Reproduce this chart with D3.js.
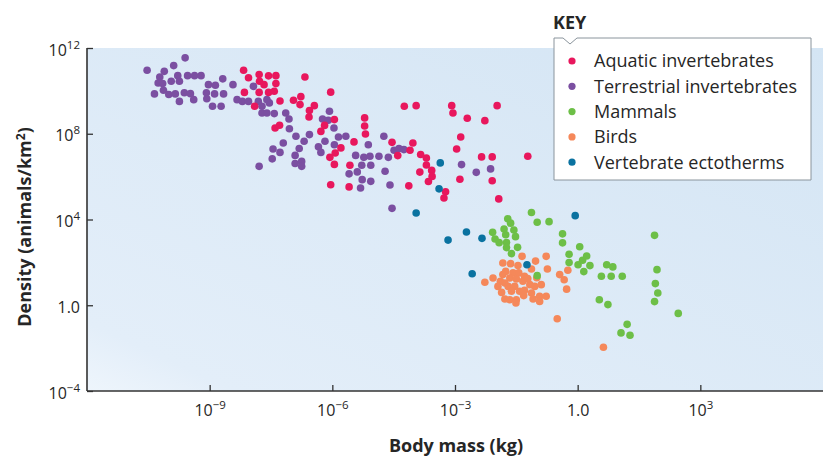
<!DOCTYPE html>
<html>
<head>
<meta charset="utf-8">
<script src="https://cdn.jsdelivr.net/npm/d3@7"></script>
<style>
  body { margin: 0; background: #fff; }
  #graf { width: 823px; height: 458px; }
  text { font-family: "Open Sans", "Noto Sans", sans-serif; fill: #262626; }
</style>
</head>
<body>
<div id="graf"></div>
<script>
// values as [log10 body mass (kg), log10 density (animals/km2)]
const aquatic = [
  [-8.17, 10.96], [-8.05, 10.61], [-7.79, 10.76], [-7.56, 10.70], [-7.38, 10.71],
  [-7.78, 10.45], [-7.67, 10.29], [-7.38, 10.34], [-8.15, 9.93], [-7.79, 9.93],
  [-7.56, 9.93], [-7.42, 9.98], [-7.90, 9.28], [-7.28, 9.53], [-6.67, 10.65],
  [-6.95, 9.56], [-6.77, 9.73], [-6.79, 9.36], [-6.44, 9.31], [-6.56, 9.08],
  [-6.57, 8.78], [-6.04, 9.94], [-7.40, 8.27], [-7.29, 8.40], [-6.28, 8.11],
  [-6.19, 8.39], [-5.95, 8.66], [-5.79, 7.34], [-5.93, 7.10], [-6.06, 6.90],
  [-5.95, 6.57], [-5.47, 7.62], [-5.21, 8.74], [-5.21, 8.36], [-5.19, 7.99],
  [-5.57, 6.53], [-6.04, 5.62], [-5.59, 5.52], [-4.24, 9.28], [-3.95, 9.31],
  [-4.54, 7.60], [-4.03, 7.57], [-4.10, 7.23], [-4.40, 6.98], [-3.84, 7.03],
  [-3.70, 6.87], [-3.70, 6.54], [-3.57, 6.29], [-3.56, 6.01], [-3.65, 5.77],
  [-3.86, 6.21], [-4.13, 5.57], [-3.23, 5.29], [-3.27, 5.00], [-3.08, 9.31],
  [-3.05, 8.97], [-2.70, 8.72], [-2.27, 8.61], [-1.97, 9.31], [-2.86, 7.85],
  [-2.96, 7.29], [-2.35, 6.92], [-2.09, 6.92], [-1.22, 6.95], [-2.88, 5.88],
  [-2.09, 5.81], [-1.93, 4.96]
]
const terrestrial = [
  [-10.53, 10.96], [-9.60, 11.54], [-9.88, 11.18], [-10.11, 10.91], [-10.22, 10.65],
  [-10.26, 10.37], [-10.15, 10.34], [-9.94, 10.45], [-9.78, 10.71], [-9.74, 10.45],
  [-9.54, 10.71], [-9.37, 10.71], [-9.21, 10.71], [-10.35, 9.86], [-10.13, 10.03],
  [-10.00, 9.83], [-9.84, 9.86], [-9.74, 9.51], [-9.62, 9.91], [-9.47, 9.87],
  [-9.39, 9.59], [-9.08, 9.91], [-9.07, 9.63], [-9.03, 10.29], [-8.86, 10.26],
  [-8.88, 9.86], [-8.68, 10.56], [-8.66, 9.86], [-8.93, 9.28], [-8.72, 9.28],
  [-8.43, 10.29], [-8.33, 9.59], [-8.20, 9.51], [-8.05, 9.51], [-7.93, 10.21],
  [-7.81, 9.51], [-7.72, 9.28], [-7.60, 9.59], [-7.54, 9.44], [-7.72, 8.97],
  [-7.60, 8.97], [-7.42, 8.94], [-7.14, 8.97], [-7.06, 8.69], [-7.05, 8.23],
  [-7.45, 7.29], [-7.28, 7.13], [-7.20, 7.57], [-7.47, 6.83], [-7.79, 6.48],
  [-6.89, 7.88], [-6.69, 7.65], [-6.56, 7.96], [-6.81, 7.31], [-6.91, 6.99],
  [-6.91, 6.61], [-6.75, 6.71], [-6.75, 6.48], [-6.34, 7.39], [-6.28, 7.13],
  [-6.24, 8.69], [-6.10, 8.63], [-6.07, 9.05], [-5.96, 8.27], [-6.18, 7.65],
  [-5.95, 7.49], [-5.85, 7.85], [-5.67, 7.88], [-5.43, 6.99], [-5.59, 6.13],
  [-5.39, 6.22], [-5.28, 6.53], [-5.23, 6.90], [-5.08, 6.95], [-5.06, 6.53],
  [-5.12, 7.49], [-5.27, 5.86], [-5.06, 5.78], [-5.31, 5.47], [-4.86, 6.95],
  [-4.74, 7.88], [-4.63, 6.90], [-4.71, 6.25], [-4.59, 5.61], [-4.54, 4.52],
  [-4.49, 7.23], [-4.37, 7.31], [-4.25, 7.26], [-2.84, 6.56], [-2.48, 6.20],
  [-2.13, 6.36]
]
const mammals = [
  [-1.13, 4.33], [-0.99, 3.87], [-0.70, 3.90], [-1.71, 4.03], [-1.64, 3.83],
  [-1.56, 3.51], [-1.80, 3.56], [-1.76, 3.29], [-1.52, 3.20], [-2.08, 3.40],
  [-2.02, 3.09], [-1.92, 2.92], [-1.74, 2.93], [-1.74, 2.69], [-1.47, 2.70],
  [-1.62, 2.41], [-0.37, 3.33], [-0.37, 2.91], [0.05, 2.73], [-0.21, 2.38],
  [-0.21, 1.99], [0.01, 1.89], [0.12, 2.10], [0.22, 2.30], [0.30, 1.85],
  [0.15, 1.57], [0.71, 1.89], [0.86, 1.79], [0.58, 1.35], [0.82, 1.35],
  [1.09, 1.35], [-0.99, 1.38], [0.53, 0.26], [0.74, 0.03], [1.88, 3.26],
  [1.94, 1.66], [1.90, 1.01], [1.96, 0.57], [1.88, 0.17], [2.46, -0.38],
  [1.21, -0.89], [1.06, -1.29], [1.28, -1.40]
]
const birds = [
  [-1.36, 2.28], [-0.77, 2.28], [-1.03, 2.06], [-0.74, 1.69], [-1.83, 1.97],
  [-1.64, 1.94], [-1.46, 1.85], [-1.13, 1.69], [-1.76, 1.58], [-1.83, 1.43],
  [-1.58, 1.51], [-1.44, 1.51], [-1.30, 1.35], [-1.66, 1.27], [-1.50, 1.23],
  [-1.34, 1.12], [-2.27, 1.07], [-2.07, 1.27], [-1.89, 1.12], [-1.95, 0.88],
  [-1.78, 1.04], [-1.70, 0.88], [-1.54, 0.88], [-1.17, 0.96], [-1.05, 0.88],
  [-0.89, 0.96], [-1.86, 0.60], [-1.62, 0.65], [-1.42, 0.65], [-1.30, 0.70],
  [-1.13, 0.57], [-1.78, 0.29], [-1.66, 0.26], [-1.50, 0.26], [-1.51, 0.11],
  [-1.09, 0.29], [-0.93, 0.42], [-0.77, 0.42], [-0.93, 0.18], [-0.44, 1.43],
  [-0.33, 1.19], [-0.24, 1.63], [-0.27, 0.75], [-0.50, -0.63], [0.63, -1.96],
  [-1.22, 1.24], [-1.00, 1.28], [-1.32, 0.45]
]
const ectotherms = [
  [-3.95, 4.30], [-3.36, 6.64], [-3.39, 5.43], [-3.17, 3.04], [-2.72, 3.42],
  [-2.34, 3.12], [-2.58, 1.47], [-1.24, 1.89], [-0.06, 4.18]
]

const categories = ['Aquatic invertebrates', 'Terrestrial invertebrates', 'Mammals', 'Birds', 'Vertebrate ectotherms']
const colores = ['#e8175d', '#7b4fa1', '#6dbf47', '#f5885a', '#0a72a0']
const series = [aquatic, terrestrial, mammals, birds, ectotherms]
// drawing order (back to front)
const drawOrder = [1, 0, 3, 2, 4]

const xTicks = [-9, -6, -3, 0, 3]
const yTicks = [12, 8, 4, 0, -4]

const ancho = 823
const alto = 458
const m = { left: 87, right: 823, top: 48, bottom: 391 }

const svg = d3.select('#graf').append('svg')
    .attr('width', ancho)
    .attr('height', alto)

const x = d3.scaleLog().domain([1e-12, 1e6]).range([m.left, m.right])
const y = d3.scaleLog().domain([1e-4, 1e12]).range([m.bottom, m.top])

// background
const defs = svg.append('defs')
const grad = defs.append('linearGradient')
    .attr('id', 'bg').attr('x1', 0).attr('y1', 1).attr('x2', 1).attr('y2', 0)
grad.append('stop').attr('offset', 0).attr('stop-color', '#eef5fc')
grad.append('stop').attr('offset', 0.1).attr('stop-color', '#e3eef9')
grad.append('stop').attr('offset', 1).attr('stop-color', '#d4e5f4')

svg.append('rect')
    .attr('x', m.left).attr('y', m.top)
    .attr('width', m.right - m.left).attr('height', m.bottom - m.top)
    .attr('fill', 'url(#bg)')

// points
drawOrder.forEach(i => {
  svg.append('g').selectAll('circle')
    .data(series[i])
    .enter()
    .append('circle')
    .attr('cx', d => x(10 ** d[0]))
    .attr('cy', d => y(10 ** d[1]))
    .attr('r', 3.8)
    .attr('fill', colores[i])
})

// axes
const supLabel = (sel, exps) => {
  sel.selectAll('.tick text').each(function(d, i) {
    const t = d3.select(this).text('')
    const e = exps[i]
    if (e === 0) {
      t.text('1.0')
    } else {
      t.append('tspan').text('10')
      t.append('tspan').attr('dy', -7).attr('font-size', 11.5).text(e < 0 ? '\u2212' + (-e) : e)
    }
  })
}

const gx = svg.append('g')
    .attr('transform', `translate(0,${m.bottom})`)
    .call(d3.axisBottom(x).tickValues(xTicks.map(e => 10 ** e)).tickSize(-6).tickPadding(14))
gx.selectAll('text').attr('font-size', 16).attr('fill', '#262626')
supLabel(gx, xTicks)

const gy = svg.append('g')
    .attr('transform', `translate(${m.left},0)`)
    .call(d3.axisLeft(y).tickValues(yTicks.map(e => 10 ** e)).tickSize(-6).tickPadding(7))
gy.selectAll('text').attr('font-size', 16).attr('fill', '#262626').attr('dy', '0.45em')
supLabel(gy, yTicks)

svg.selectAll('.domain').attr('stroke', '#333').attr('stroke-width', 1.6)
svg.selectAll('.tick line').attr('stroke', '#333').attr('stroke-width', 1.3)
gx.select('.domain').attr('d', `M${m.left},0H${m.right}`)
gy.select('.domain').attr('d', `M0,${m.bottom}V${m.top}`)

// axis titles
svg.append('text')
    .attr('x', 456).attr('y', 452)
    .attr('text-anchor', 'middle')
    .attr('font-size', 18).attr('font-weight', 'bold')
    .text('Body mass (kg)')

const yt = svg.append('text')
    .attr('transform', 'translate(31,227) rotate(-90)')
    .attr('text-anchor', 'middle')
    .attr('font-size', 18).attr('font-weight', 'bold')
yt.append('tspan').text('Density (animals/km')
yt.append('tspan').attr('dy', -6).attr('font-size', 12).text('2')
yt.append('tspan').attr('dy', 6).text(')')

// key
const kx = 554, ky = 38, kw = 257, kh = 142
svg.append('text')
    .attr('x', kx - 1).attr('y', 29)
    .attr('font-size', 18).attr('font-weight', 'bold')
    .text('KEY')

svg.append('path')
    .attr('d', `M${kx},${ky}H${kx + 9}L${kx + 16},${ky + 6}L${kx + 23},${ky}H${kx + kw}V${ky + kh}H${kx}Z`)
    .attr('fill', '#fff')
    .attr('stroke', '#8a949c')
    .attr('stroke-width', 1)

const item = svg.append('g').selectAll('g')
    .data(categories)
    .enter()
    .append('g')
    .attr('transform', (d, i) => `translate(${kx + 18},${ky + 23 + i * 25.3})`)

item.append('circle').attr('r', 3.6).attr('fill', (d, i) => colores[i])
item.append('text')
    .attr('x', 22).attr('dy', '0.35em')
    .attr('font-size', 18)
    .text(d => d)
</script>
</body>
</html>
